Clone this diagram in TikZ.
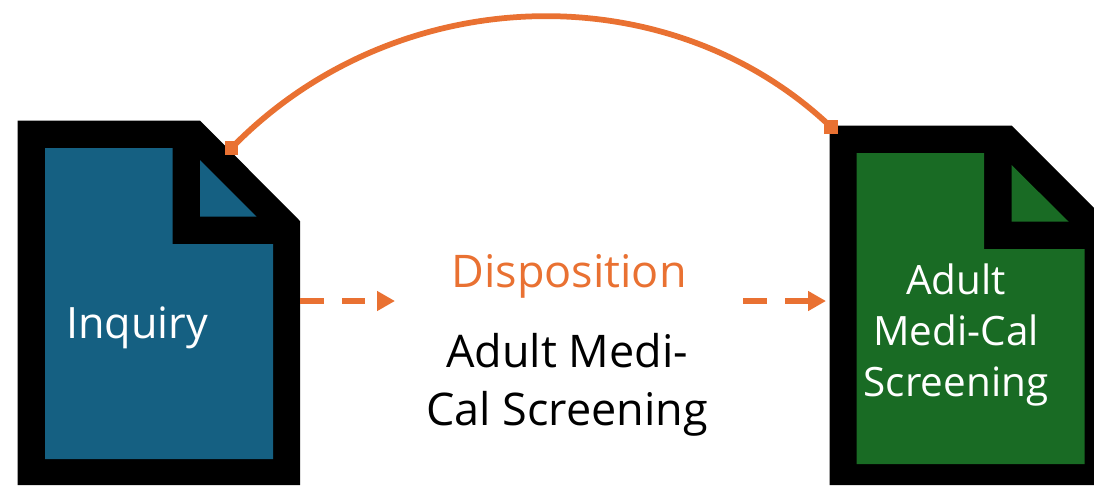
\documentclass[tikz,border=0pt]{standalone}
\usepackage{fontspec}
\setmainfont{Open Sans}
\usetikzlibrary{arrows.meta}
\definecolor{inquiryblue}{HTML}{156082}
\definecolor{screengreen}{HTML}{196B24}
\definecolor{dispoorange}{HTML}{E97132}
\tikzset{
    doctext/.style={text=white, font=\fontsize{23}{29.2}\selectfont, align=center},
    inquirytext/.style={text=white, font=\fontsize{24.6}{30}\selectfont},
    midtext/.style={font=\fontsize{25.6}{33}\selectfont, align=center},
    enddot/.style={fill=dispoorange, minimum size=0.27cm, inner sep=0pt},
    dashlink/.style={dispoorange, line width=0.11cm, dash pattern=on 0.47cm off 0.37cm, -{Triangle[length=0.36cm,width=0.38cm]}},
}

\begin{document}
\begin{tikzpicture}[x=0.02cm,y=-0.02cm]
\clip (0,0) rectangle (1094,485);
		% inquiry page
		\fill[black] (17.5,120.5) -- (200,120.5) -- (300,221) -- (300,485) -- (17.5,485) -- cycle;
		\fill[inquiryblue] (45,148) -- (172.5,148) -- (172.5,244) -- (273,244) -- (273,459) -- (45,459) -- cycle;
		\fill[inquiryblue] (200,160) -- (256.5,216.5) -- (200,216.5) -- cycle;
		
		% screening page
		\fill[black] (829.5,125.5) -- (1011.5,125.5) -- (1112,226) -- (1112,485) -- (829.5,485) -- cycle;
		\fill[screengreen] (856.5,153) -- (984,153) -- (984,249) -- (1084.5,249) -- (1084.5,464) -- (856.5,464) -- cycle;
		\fill[screengreen] (1011.5,165) -- (1068.5,221.5) -- (1011.5,221.5) -- cycle;
		
		\node[inquirytext] (inquiry) at (137,328) {Inquiry};
		\node[doctext] (screening) at (956,335) {Adult\\Medi-Cal\\Screening};
		\node[midtext, text=dispoorange] (disposition) at (569,276) {Disposition};
		\node[midtext] (adult) at (567,385) {Adult Medi-\\Cal Screening};
		
		\node[enddot] (arcstart) at (231.5,148) {};
		\node[enddot] (arcend) at (831,127) {};
		\draw[dispoorange, line width=0.115cm] (arcstart.center) .. controls (395,-20) and (668,-28) .. (arcend.center);
		
		\coordinate (inquiryedge) at (300,301);
		\coordinate (leftstop) at (395,301);
		\coordinate (rightgo) at (743,301);
		\coordinate (screenedge) at (826,301);
		\draw[dashlink] (inquiryedge) -- (leftstop);
		\draw[dashlink] (rightgo) -- (screenedge);
\end{tikzpicture}
\end{document}
